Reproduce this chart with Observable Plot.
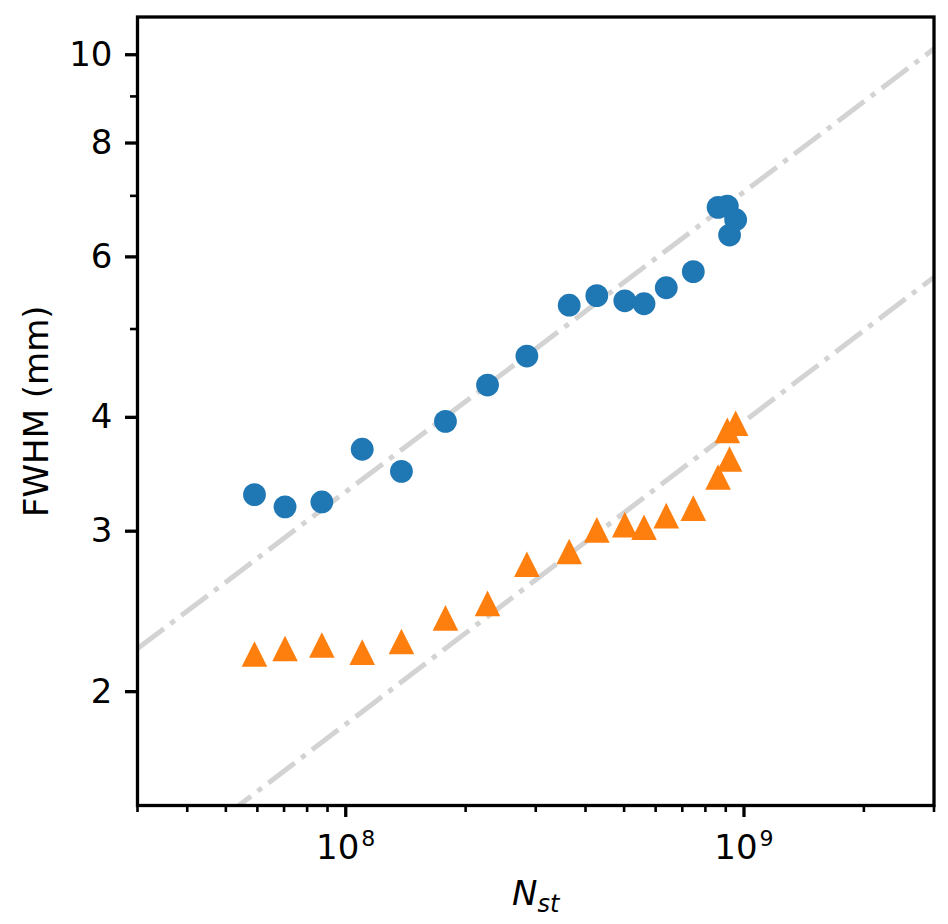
<!DOCTYPE html>
<html><head><meta charset="utf-8">
<script src="https://cdn.jsdelivr.net/npm/d3@7"></script>
<script src="https://cdn.jsdelivr.net/npm/@observablehq/plot@0.6"></script>
<style>body{margin:0;background:#fff}</style>
</head><body><div id="chart"></div>
<script>
const nst = [5.90e7, 7.04e7, 8.71e7, 1.10e8, 1.38e8, 1.78e8, 2.27e8, 2.85e8, 3.64e8, 4.27e8, 5.02e8, 5.61e8, 6.38e8, 7.46e8, 8.61e8, 9.08e8, 9.20e8, 9.53e8];
const fwhmCircle = [3.29, 3.19, 3.23, 3.69, 3.49, 3.96, 4.34, 4.67, 5.31, 5.44, 5.37, 5.33, 5.55, 5.78, 6.80, 6.82, 6.34, 6.59];
const fwhmTriangle = [2.20, 2.23, 2.25, 2.21, 2.27, 2.41, 2.50, 2.76, 2.85, 3.01, 3.05, 3.03, 3.12, 3.18, 3.44, 3.87, 3.60, 3.94];
const fitX = [3e7, 3e9];
const fitUpper = [2.23, 10.15];
const fitLower = [1.235, 5.70];
const xMajorTicks = [1e8, 1e9];
const xMinorTicks = [3e7,4e7,5e7,6e7,7e7,8e7,9e7,2e8,3e8,4e8,5e8,6e8,7e8,8e8,9e8,2e9,3e9];
const yMajorTicks = [2,3,4,6,8,10];
const yMinorTicks = [5,7,9];
const xLabelMain = "N";
const xLabelSub = "st";
const yLabel = "FWHM (mm)";

const circles = nst.map((x,i)=>({x, y: fwhmCircle[i]}));
const triangles = nst.map((x,i)=>({x, y: fwhmTriangle[i]}));
const upper = fitX.map((x,i)=>({x, y: fitUpper[i]}));
const lower = fitX.map((x,i)=>({x, y: fitLower[i]}));

const triangleUp = { draw(ctx, size) { const r = Math.sqrt(size/Math.PI); ctx.moveTo(0,-r); ctx.lineTo(r,r); ctx.lineTo(-r,r); ctx.closePath(); } };

const lineStyle = {x:"x", y:"y", stroke:"#d3d3d3", strokeWidth:5, strokeDasharray:"33,8.3,5.2,8.3", strokeLinecap:"butt", clip:true};

const svg = Plot.plot({
  width:948, height:924, marginLeft:137, marginRight:14.5, marginTop:16.5, marginBottom:119,
  style:{fontFamily:"'DejaVu Sans', sans-serif", fontSize:"34px", color:"black", background:"white"},
  x:{type:"log", domain:[3e7,3e9]},
  y:{type:"log", domain:[1.5,11]},
  marks:[
    Plot.line(upper, lineStyle),
    Plot.line(lower, lineStyle),
    Plot.dot(circles, {x:"x", y:"y", r:11.4, fill:"#1f77b4"}),
    Plot.dot(triangles, {x:"x", y:"y", r:12.8, symbol: triangleUp, fill:"#ff7f0e"}),
    Plot.frame({stroke:"black", strokeWidth:3.3}),
    Plot.axisX({ticks:xMinorTicks, tickSize:7, strokeWidth:2.6, fill:"none", label:null}),
    Plot.axisX({ticks:xMajorTicks, tickSize:12, strokeWidth:3.3, tickPadding:17, tickFormat: d=>"10^"+Math.round(Math.log10(d)), fontSize:34, label:null}),
    Plot.axisY({ticks:yMinorTicks, tickSize:7, strokeWidth:2.6, fill:"none", label:null}),
    Plot.axisY({ticks:yMajorTicks, tickSize:12, strokeWidth:3.3, tickPadding:13, tickFormat: d=>String(d), fontSize:34, label:null}),
    Plot.text([xLabelMain], {frameAnchor:"bottom", lineAnchor:"middle", textAnchor:"middle", dy:89, fontSize:34}),
    Plot.text([yLabel], {frameAnchor:"left", lineAnchor:"middle", textAnchor:"middle", dx:-100, rotate:-90, fontSize:34})
  ]
});

const NS = "http://www.w3.org/2000/svg";
svg.querySelectorAll('text').forEach(t => {
  const parts = t.textContent.split("^");
  if (parts.length === 2) {
    t.textContent = parts[0];
    const s = document.createElementNS(NS, "tspan");
    s.setAttribute("dy", "-13");
    s.setAttribute("dx", "2");
    s.setAttribute("font-size", "22");
    s.textContent = parts[1];
    t.appendChild(s);
  } else if (t.textContent === xLabelMain) {
    t.textContent = "";
    const a = document.createElementNS(NS, "tspan");
    a.setAttribute("font-style", "italic");
    a.textContent = xLabelMain;
    const b = document.createElementNS(NS, "tspan");
    b.setAttribute("font-style", "italic");
    b.setAttribute("font-size", "24");
    b.setAttribute("dy", "7");
    b.textContent = xLabelSub;
    t.appendChild(a); t.appendChild(b);
  }
});
document.getElementById("chart").appendChild(svg);
</script>
</body></html>
